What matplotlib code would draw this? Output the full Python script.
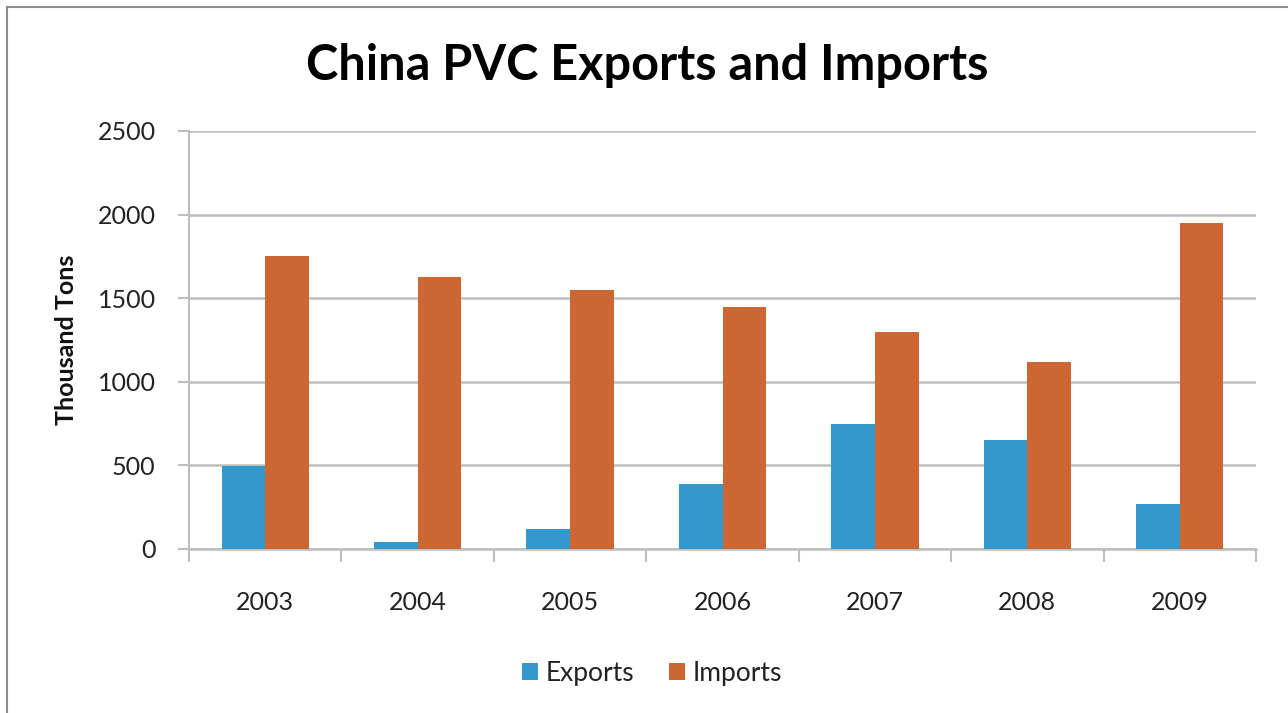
import matplotlib
matplotlib.use("Agg")
import matplotlib.pyplot as plt
import numpy as np
from matplotlib.patches import Rectangle

years = ["2003", "2004", "2005", "2006", "2007", "2008", "2009"]
exports = [495, 40, 120, 390, 750, 650, 270]
imports = [1750, 1625, 1550, 1450, 1300, 1120, 1950]

blue = "#3399CC"
orange = "#CC6633"
grid_c = "#BEBEBE"

plt.rcParams["font.family"] = ["Lato", "DejaVu Sans"]

fig = plt.figure(figsize=(12.88, 7.13), dpi=100)
fig.patches.append(Rectangle((7 / 1288, -0.01), 1.02, 1 - 7 / 713 + 0.01,
                             transform=fig.transFigure, fill=False,
                             edgecolor="#8C8C8C", linewidth=1.5))

ax = fig.add_axes([189 / 1288, 1 - 549 / 713, (1256 - 189) / 1288, (549 - 131) / 713])

x = np.arange(len(years))
w = 0.286
ax.bar(x - w / 2, exports, width=w, color=blue, label="Exports", zorder=3)
ax.bar(x + w / 2, imports, width=w, color=orange, label="Imports", zorder=3)

ax.set_xlim(-0.5, len(years) - 0.5)
ax.set_ylim(0, 2500)
ax.set_yticks(np.arange(0, 2501, 500))
ax.yaxis.grid(True, color=grid_c, linewidth=1.8, zorder=0)
ax.set_axisbelow(True)

for s in ["top", "right"]:
    ax.spines[s].set_visible(False)
ax.spines["left"].set_color(grid_c)
ax.spines["left"].set_linewidth(1.5)
ax.spines["bottom"].set_color(grid_c)
ax.spines["bottom"].set_linewidth(1.8)

ax.set_xticks(x)
ax.set_xticklabels(years)
ax.set_xticks(np.arange(-0.5, len(years), 1.0), minor=True)
ax.tick_params(axis="x", which="major", length=0, pad=30, labelsize=18, labelcolor="#222222")
ax.tick_params(axis="x", which="minor", length=9, width=1.5, color=grid_c, direction="out")
ax.tick_params(axis="y", length=8, width=1.5, color=grid_c, pad=16, labelsize=18, labelcolor="#222222")

ax.set_ylabel("Thousand Tons", fontsize=18, fontweight="bold", labelpad=14, color="#111111")

fig.text(647 / 1288, 1 - 66 / 713, "China PVC Exports and Imports", ha="center", va="center",
         fontsize=35, fontweight="bold", color="#000000")

fig.legend(loc="center", bbox_to_anchor=(652 / 1288, 1 - 673 / 713), ncol=2, frameon=False,
           fontsize=19, handlelength=0.6, handleheight=0.6, handletextpad=0.3,
           columnspacing=1.3, labelcolor="#222222")

fig.savefig("out.png", dpi=100)
